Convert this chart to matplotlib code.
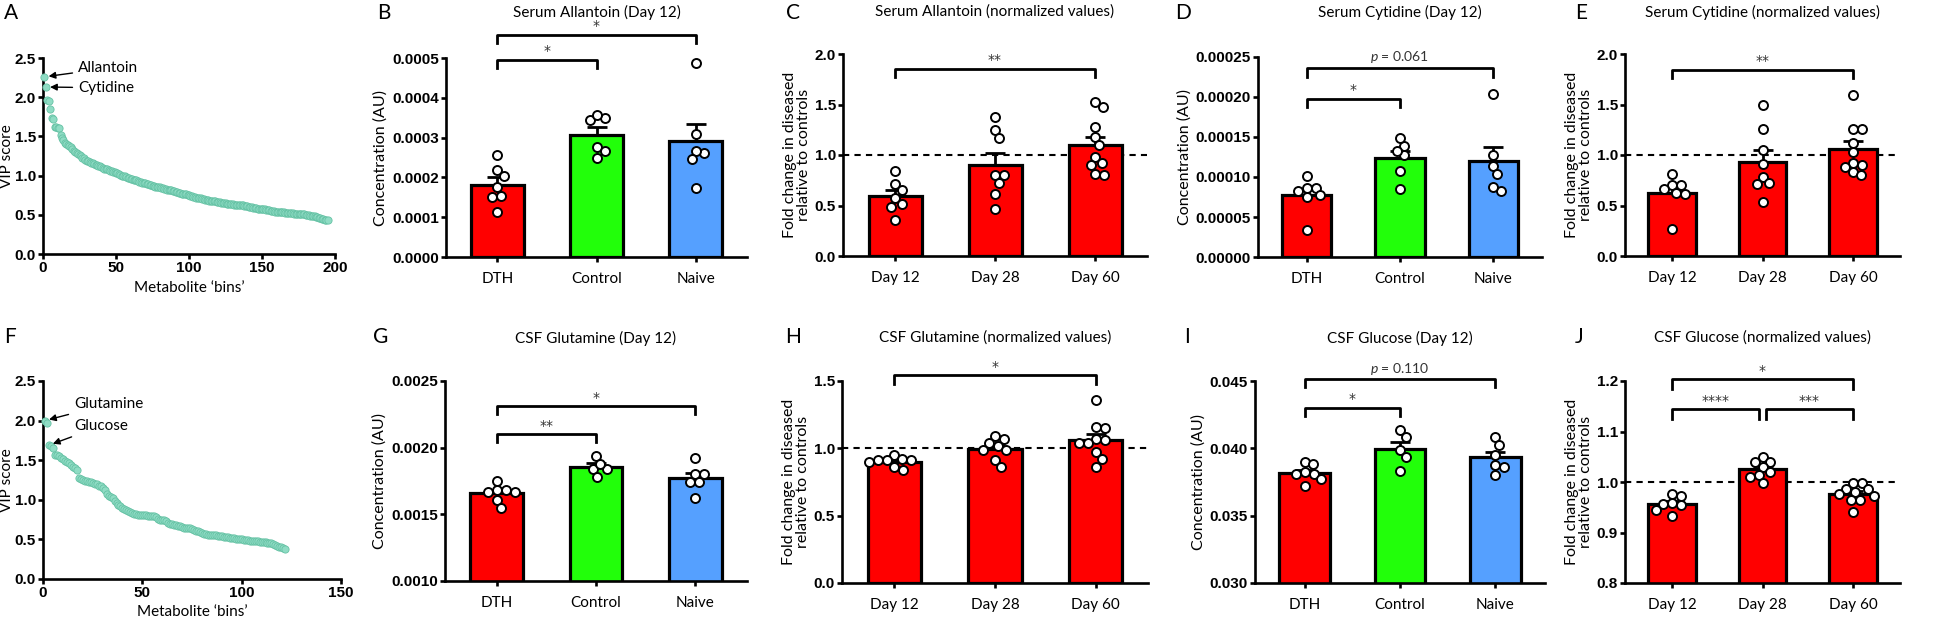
import numpy as np
import matplotlib
matplotlib.use('Agg')
import matplotlib.pyplot as plt

plt.rcParams['font.family'] = ['Lato', 'DejaVu Sans']
plt.rcParams['mathtext.fontset'] = 'custom'
plt.rcParams['mathtext.it'] = 'Lato:italic'
plt.rcParams['mathtext.rm'] = 'Lato'

# ---------------- data ----------------
# VIP scores (panel A, serum; panel F, CSF)
vip_serum = [
    2.26, 2.13, 1.96, 1.95, 1.85, 1.73, 1.72, 1.62, 1.62, 1.61,
    1.61, 1.52, 1.48, 1.45, 1.42, 1.40, 1.39, 1.38, 1.36, 1.34,
    1.32, 1.30, 1.29, 1.27, 1.26, 1.25, 1.23, 1.22, 1.20, 1.19,
    1.18, 1.17, 1.16, 1.16, 1.15, 1.14, 1.13, 1.12, 1.12, 1.11,
    1.10, 1.09, 1.08, 1.08, 1.07, 1.06, 1.06, 1.05, 1.04, 1.03,
    1.03, 1.02, 1.01, 1.00, 1.00, 0.99, 0.98, 0.97, 0.97, 0.96,
    0.96, 0.95, 0.94, 0.94, 0.93, 0.92, 0.92, 0.91, 0.91, 0.90,
    0.89, 0.89, 0.88, 0.88, 0.87, 0.87, 0.86, 0.86, 0.85, 0.85,
    0.84, 0.84, 0.83, 0.83, 0.82, 0.82, 0.81, 0.81, 0.80, 0.80,
    0.79, 0.79, 0.78, 0.78, 0.77, 0.77, 0.76, 0.76, 0.75, 0.75,
    0.74, 0.74, 0.73, 0.73, 0.72, 0.72, 0.71, 0.71, 0.70, 0.70,
    0.69, 0.69, 0.69, 0.68, 0.68, 0.67, 0.67, 0.67, 0.66, 0.66,
    0.66, 0.65, 0.65, 0.65, 0.65, 0.64, 0.64, 0.64, 0.64, 0.64,
    0.63, 0.63, 0.63, 0.62, 0.62, 0.62, 0.62, 0.61, 0.61, 0.61,
    0.60, 0.60, 0.60, 0.59, 0.59, 0.59, 0.58, 0.58, 0.58, 0.57,
    0.57, 0.57, 0.56, 0.56, 0.56, 0.55, 0.55, 0.55, 0.54, 0.54,
    0.54, 0.53, 0.53, 0.53, 0.53, 0.52, 0.52, 0.52, 0.52, 0.52,
    0.52, 0.51, 0.51, 0.51, 0.51, 0.51, 0.51, 0.51, 0.51, 0.50,
    0.50, 0.50, 0.49, 0.49, 0.48, 0.48, 0.47, 0.47, 0.46, 0.46,
    0.45, 0.45, 0.44, 0.44, 0.43,
]
vip_csf = [
    2.00, 1.97, 1.69, 1.68, 1.66, 1.57, 1.56, 1.55, 1.53, 1.51,
    1.49, 1.48, 1.46, 1.44, 1.42, 1.40, 1.37, 1.27, 1.26, 1.25,
    1.24, 1.24, 1.23, 1.22, 1.21, 1.20, 1.20, 1.18, 1.17, 1.15,
    1.13, 1.07, 1.05, 1.04, 1.02, 0.99, 0.96, 0.94, 0.92, 0.90,
    0.88, 0.87, 0.86, 0.84, 0.83, 0.82, 0.82, 0.81, 0.81, 0.81,
    0.81, 0.81, 0.80, 0.80, 0.80, 0.79, 0.78, 0.76, 0.75, 0.75,
    0.74, 0.73, 0.71, 0.70, 0.69, 0.68, 0.68, 0.67, 0.67, 0.66,
    0.65, 0.65, 0.64, 0.64, 0.63, 0.62, 0.61, 0.60, 0.59, 0.58,
    0.57, 0.57, 0.56, 0.56, 0.55, 0.55, 0.55, 0.54, 0.54, 0.54,
    0.53, 0.53, 0.53, 0.52, 0.52, 0.52, 0.51, 0.51, 0.50, 0.50,
    0.49, 0.49, 0.49, 0.48, 0.48, 0.48, 0.48, 0.48, 0.47, 0.47,
    0.47, 0.47, 0.46, 0.45, 0.45, 0.44, 0.43, 0.42, 0.41, 0.40,
    0.39, 0.38,
]

groups = ['DTH', 'Control', 'Naive']
days = ['Day 12', 'Day 28', 'Day 60']

allantoin_d12 = [
    [0.000257, 0.000219, 0.000203, 0.000175, 0.000154, 0.000151, 0.000112],
    [0.000350, 0.000343, 0.000358, 0.000276, 0.000250, 0.000266],
    [0.000488, 0.000308, 0.000261, 0.000266, 0.000245, 0.000174],
]
allantoin_norm = [
    [0.84, 0.71, 0.65, 0.57, 0.51, 0.49, 0.36],
    [1.38, 1.25, 1.17, 0.80, 0.80, 0.72, 0.61, 0.47],
    [1.48, 1.52, 1.28, 1.18, 1.10, 0.98, 0.92, 0.90, 0.80, 0.81],
]
cytidine_d12 = [
    [0.0001008, 0.0000867, 0.0000867, 0.0000825, 0.0000771, 0.0000750, 0.0000342],
    [0.000139, 0.000149, 0.000127, 0.000133, 0.0001075, 0.0000854],
    [0.000204, 0.000127, 0.0001138, 0.0001033, 0.0000825, 0.0000875],
]
cytidine_norm = [
    [0.81, 0.70, 0.70, 0.66, 0.62, 0.61, 0.27],
    [1.50, 1.26, 1.05, 0.91, 0.78, 0.72, 0.71, 0.53],
    [1.59, 1.26, 1.26, 1.12, 1.03, 0.92, 0.90, 0.88, 0.83, 0.80],
]
glutamine_d12 = [
    [0.00175, 0.00168, 0.00167, 0.00167, 0.00168, 0.00161, 0.00155],
    [0.00194, 0.00184, 0.00184, 0.00188, 0.00178],
    [0.00192, 0.00180, 0.00180, 0.00174, 0.00174, 0.00162],
]
glutamine_norm = [
    [0.95, 0.92, 0.91, 0.91, 0.91, 0.90, 0.86, 0.84],
    [1.09, 1.07, 1.04, 1.02, 0.99, 0.99, 0.91, 0.86],
    [1.36, 1.16, 1.15, 1.07, 1.06, 1.04, 1.04, 0.97, 0.92, 0.86],
]
glucose_d12 = [
    [0.0390, 0.03883, 0.03821, 0.03808, 0.03813, 0.03771, 0.03721],
    [0.04136, 0.04086, 0.03987, 0.03937, 0.03831],
    [0.04086, 0.04024, 0.0395, 0.03875, 0.03858, 0.03801],
]
glucose_norm = [
    [0.977, 0.973, 0.958, 0.956, 0.955, 0.944, 0.932],
    [1.05, 1.04, 1.04, 1.03, 1.019, 1.014, 1.01, 0.998],
    [0.999, 0.999, 0.987, 0.986, 0.98, 0.976, 0.972, 0.964, 0.964, 0.941],
]

# significance brackets: (group a, group b, height, label)
sig_allantoin_d12 = [(0, 1, 0.000496, '*'), (0, 2, 0.000559, '*')]
sig_allantoin_norm = [(0, 2, 1.855, '**')]
sig_cytidine_d12 = [(0, 1, 0.000198, '*'), (0, 2, 0.000236, '$p$ = 0.061')]
sig_cytidine_norm = [(0, 2, 1.845, '**')]
sig_glutamine_d12 = [(0, 1, 0.002102, '**'), (0, 2, 0.002312, '*')]
sig_glutamine_norm = [(0, 2, 1.542, '*')]
sig_glucose_d12 = [(0, 1, 0.04302, '*'), (0, 2, 0.04512, '$p$ = 0.110')]
sig_glucose_norm = [(0, 2, 1.204, '*'), (0, 0.96, 1.1445, '****'), (1.04, 2, 1.1445, '***')]

RED = '#ff0000'
GREEN = '#22ff0a'
BLUE = '#55a0ff'
TEAL = '#8fdcc4'

W, H = 1960, 621
fig = plt.figure(figsize=(W / 100, H / 100), dpi=100)


def add_ax(x0, x1, y0, y1):
    return fig.add_axes([x0 / W, 1 - y1 / H, (x1 - x0) / W, (y1 - y0) / H])


def base_style(ax):
    for s in ['top', 'right']:
        ax.spines[s].set_visible(False)
    for s in ['left', 'bottom']:
        ax.spines[s].set_linewidth(1.9)
    ax.tick_params(direction='out', width=1.9, length=3.5, pad=1.5)


def set_num_yticks(ax, ticks, fmt):
    ax.set_yticks(ticks, labels=[fmt % t for t in ticks],
                  fontfamily='Liberation Sans', fontweight='bold', fontsize=11)


def swarm(values, ppx_y, d=9.0):
    # simple beeswarm: offsets in pixels
    ys = np.asarray(values) * ppx_y
    out = np.zeros(len(ys))
    placed = []
    for i in np.argsort(-ys):
        y = ys[i]
        cands = [0.0]
        for px, py in placed:
            dy = abs(py - y)
            if dy < d:
                dx = np.sqrt(d * d - dy * dy)
                cands += [px + dx, px - dx]
        cands.sort(key=lambda c: (round(abs(c), 3), -c))
        for c in cands:
            if all((c - px) ** 2 + (y - py) ** 2 >= d * d - 1e-6 for px, py in placed):
                break
        placed.append((c, y))
        out[i] = c
    return out


def vip_panel(ax, vals, xmax, notes):
    base_style(ax)
    x = np.arange(1, len(vals) + 1)
    ax.scatter(x, vals, s=27, facecolor=TEAL, edgecolor='#66c2a5', lw=0.6,
               clip_on=False, zorder=3)
    ax.set_xlim(0, xmax)
    ax.set_ylim(0, 2.5)
    set_num_yticks(ax, np.arange(0, 2.51, 0.5), '%.1f')
    xt = np.arange(0, xmax + 1, 50)
    ax.set_xticks(xt, labels=['%d' % t for t in xt],
                  fontfamily='Liberation Sans', fontweight='bold', fontsize=11)
    ax.set_ylabel('VIP score', fontsize=11)
    ax.yaxis.set_label_coords(-0.098, 0.5)
    ax.set_xlabel('Metabolite \u2018bins\u2019', fontsize=11, labelpad=4)
    for label, idx, tx, ty in notes:
        ax.annotate(label, xy=(idx, vals[idx - 1]), xytext=(tx, ty),
                    ha='left', va='center', fontsize=11,
                    arrowprops=dict(arrowstyle='-|>', color='black', lw=1,
                                    shrinkA=2, shrinkB=3, mutation_scale=10))


def bar_panel(ax, labels, data, colors, ylim, ticks, fmt, sigs, drop, ylabel, refline=False):
    base_style(ax)
    pos = np.arange(len(labels))
    means = np.array([np.mean(d) for d in data])
    sems = np.array([np.std(d, ddof=1) / np.sqrt(len(d)) for d in data])
    ax.set_xlim(-0.52, len(labels) - 0.48)
    ax.set_ylim(*ylim)
    if refline:
        ax.axhline(1.0, color='black', lw=1.5, ls=(0, (3, 2.5)), zorder=1)
    ax.bar(pos, means, width=0.53, color=colors, edgecolor='black', lw=2.3, zorder=2)
    ax.errorbar(pos, means, yerr=[np.zeros(len(pos)), sems], fmt='none', ecolor='black',
                elinewidth=2, capsize=7, capthick=2, zorder=3)
    ppx_y = ax.bbox.height / (ylim[1] - ylim[0])
    ppx_x = ax.bbox.width / (ax.get_xlim()[1] - ax.get_xlim()[0])
    for p, d in zip(pos, data):
        off = swarm(d, ppx_y) / ppx_x
        ax.scatter(p + off, d, s=42, facecolor='white', edgecolor='black', lw=1.4,
                   zorder=4, clip_on=False)
    set_num_yticks(ax, ticks, fmt)
    ax.set_xticks(pos, labels=labels, fontsize=11)
    ax.tick_params(axis='x', pad=7)
    ax.set_ylabel(ylabel, fontsize=11.5, linespacing=1.0, labelpad=3)
    for a, b, y, txt in sigs:
        ax.plot([a, a, b, b], [y - drop, y, y, y - drop], color='black', lw=2,
                clip_on=False, zorder=5)
        if '*' in txt:
            ax.annotate(txt, xy=((a + b) / 2, y), xytext=(0, 1), textcoords='offset points',
                        ha='center', va='bottom', fontsize=10, fontfamily='DejaVu Sans',
                        color='#333333', annotation_clip=False)
        else:
            ax.annotate(txt, xy=((a + b) / 2, y), xytext=(0, 2), textcoords='offset points',
                        ha='center', va='bottom', fontsize=10,
                        color='#333333', annotation_clip=False)


conc = 'Concentration (AU)'
fold = 'Fold change in diseased\nrelative to controls'
cols3 = [RED, GREEN, BLUE]

# ---- top row ----
axA = add_ax(43, 335, 58, 254)
vip_panel(axA, vip_serum, 200, [('Allantoin', 1, 24, 2.37), ('Cytidine', 2, 24, 2.12)])

axB = add_ax(446, 747, 58, 257)
bar_panel(axB, groups, allantoin_d12, cols3, (0, 0.0005), np.arange(0, 0.00051, 0.0001),
          '%.4f', sig_allantoin_d12, 0.000022, conc)

axC = add_ax(843, 1147, 54, 256)
bar_panel(axC, days, allantoin_norm, RED, (0, 2.0), np.arange(0, 2.01, 0.5),
          '%.1f', sig_allantoin_norm, 0.085, fold, refline=True)

axD = add_ax(1258, 1542, 57, 257)
bar_panel(axD, groups, cytidine_d12, cols3, (0, 0.00025), np.arange(0, 0.000251, 0.00005),
          '%.5f', sig_cytidine_d12, 0.000011, conc)

axE = add_ax(1625, 1900, 54, 256)
bar_panel(axE, days, cytidine_norm, RED, (0, 2.0), np.arange(0, 2.01, 0.5),
          '%.1f', sig_cytidine_norm, 0.085, fold, refline=True)

# ---- bottom row ----
axF = add_ax(43, 341, 381, 579)
vip_panel(axF, vip_csf, 150, [('Glutamine', 1, 15.6, 2.21), ('Glucose', 3, 15.6, 1.93)])

axG = add_ax(445, 747, 381, 581)
bar_panel(axG, groups, glutamine_d12, cols3, (0.001, 0.0025), np.arange(0.001, 0.00251, 0.0005),
          '%.4f', sig_glutamine_d12, 0.00006, conc)

axH = add_ax(842, 1148, 381, 583)
bar_panel(axH, days, glutamine_norm, RED, (0, 1.5), np.arange(0, 1.51, 0.5),
          '%.1f', sig_glutamine_norm, 0.067, fold, refline=True)

axI = add_ax(1255, 1545, 381, 583)
bar_panel(axI, groups, glucose_d12, cols3, (0.030, 0.045), np.arange(0.030, 0.0451, 0.005),
          '%.3f', sig_glucose_d12, 0.0006, conc)

axJ = add_ax(1625, 1900, 381, 583)
bar_panel(axJ, days, glucose_norm, RED, (0.8, 1.2), np.arange(0.8, 1.201, 0.1),
          '%.1f', sig_glucose_norm, 0.02, fold, refline=True)

# titles
titles = [(axB, 'Serum Allantoin (Day 12)', 12), (axC, 'Serum Allantoin (normalized values)', 12),
          (axD, 'Serum Cytidine (Day 12)', 12), (axE, 'Serum Cytidine (normalized values)', 12),
          (axG, 'CSF Glutamine (Day 12)', 338), (axH, 'CSF Glutamine (normalized values)', 338),
          (axI, 'CSF Glucose (Day 12)', 338), (axJ, 'CSF Glucose (normalized values)', 338)]
for ax, t, ypx in titles:
    bb = ax.get_position()
    fig.text(bb.x0 + bb.width / 2, 1 - ypx / H, t, ha='center', va='center', fontsize=11)

# panel letters
letters = [('A', 4, 13), ('B', 377, 13), ('C', 786, 13), ('D', 1175, 13), ('E', 1575, 13),
           ('F', 4, 337), ('G', 373, 337), ('H', 785, 337), ('I', 1184, 337), ('J', 1575, 337)]
for l, xp, yp in letters:
    fig.text(xp / W, 1 - yp / H, l, ha='left', va='center', fontsize=15)

fig.savefig('out.png', dpi=100)
